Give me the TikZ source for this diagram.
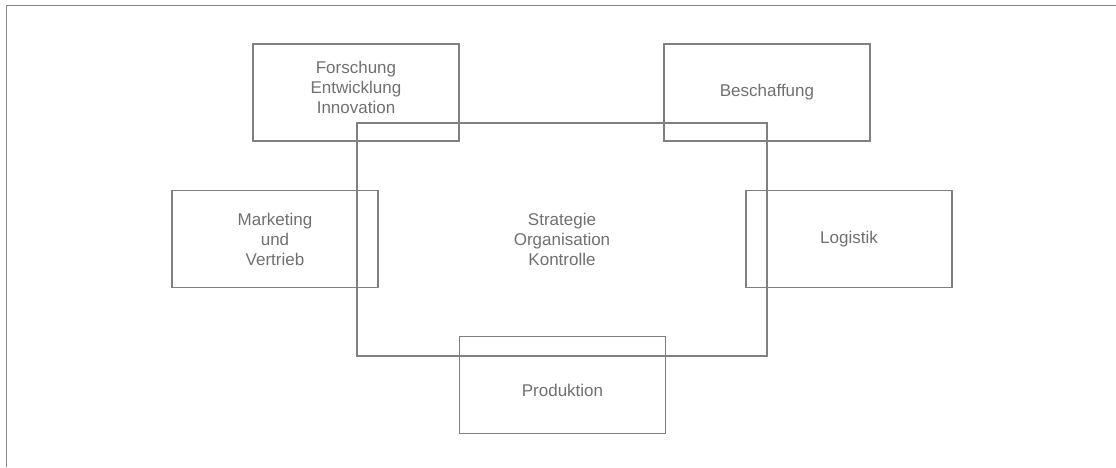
\documentclass[tikz,border=0pt]{standalone}
\usepackage{fontspec}
\setmainfont{Liberation Sans}
\usetikzlibrary{positioning}
\definecolor{linegray}{RGB}{128,128,128}
\definecolor{framegray}{RGB}{136,136,136}
\definecolor{textgray}{RGB}{112,112,112}
\tikzset{
area/.style = { rectangle, draw = linegray, line width = 1.6pt, minimum width = 206pt, minimum height = 97pt, align = center, text = textgray, font = \fontsize{17}{20}\selectfont, inner sep = 0pt },
core/.style = { area, minimum width = 410pt, minimum height = 233pt },
}

\begin{document}
\begin{tikzpicture}[x=1pt, y=-1pt]
    \useasboundingbox (0,0) rectangle (1116,467);
    % frame cut at the right and bottom
    \draw[framegray, line width = 1.7pt] (1116,5.5) -- (6.5,5.5) -- (6.5,467);
    \node[core] (sok) at (562,239.5) {Strategie\\Organisation\\Kontrolle};
    \begin{scope}[every node/.style={area}]
      \node (fei) at (356,92.5) {\raisebox{-1pt}[0pt][0pt]{\begin{tabular}{@{}c@{}}Forschung\\Entwicklung\\Innovation\end{tabular}}};
      \node (besch) at (767,92.5) {Beschaffung};
      \node (mark) at (275,239) {Marketing\\und\\Vertrieb};
      \node (log) at (849,239) {Logistik};
      \node (prod) at (562.5,385) {\raisebox{-11pt}[0pt][0pt]{Produktion}};
    \end{scope}
\end{tikzpicture}
\end{document}
